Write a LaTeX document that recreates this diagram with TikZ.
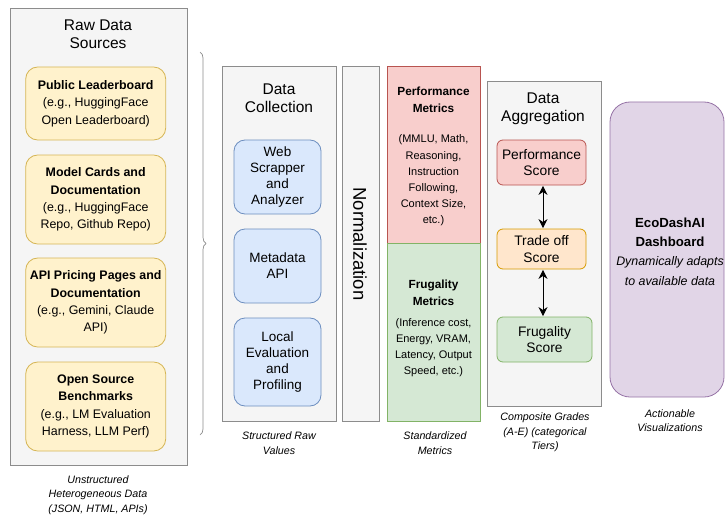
\documentclass[tikz,border=0pt]{standalone}
\usepackage{fontspec}
\setmainfont{Liberation Sans}
\usetikzlibrary{arrows.meta,decorations.pathreplacing,calc}
\definecolor{panelfill}{HTML}{F5F5F5}
\definecolor{panelline}{HTML}{8C8C8C}
\definecolor{yfill}{HTML}{FFF2CC}
\definecolor{yline}{HTML}{D6B656}
\definecolor{bfill}{HTML}{DAE8FC}
\definecolor{bline}{HTML}{6C8EBF}
\definecolor{rfill}{HTML}{F8CECC}
\definecolor{rline}{HTML}{B85450}
\definecolor{gfill}{HTML}{D5E8D4}
\definecolor{gline}{HTML}{82B366}
\definecolor{ofill}{HTML}{FFE6CC}
\definecolor{oline}{HTML}{D79B00}
\definecolor{pfill}{HTML}{E1D5E7}
\definecolor{pline}{HTML}{9673A6}
\tikzset{
  panel/.style={draw=panelline, fill=panelfill, line width=0.8pt, inner sep=0pt},
  srcbox/.style={draw=yline, fill=yfill, rounded corners=12pt, line width=0.8pt, align=center, inner sep=0pt,
    font=\fontsize{12.4}{17.4}\selectfont},
  colbox/.style={draw=bline, fill=bfill, rounded corners=11pt, line width=0.8pt, align=center, inner sep=0pt,
    font=\fontsize{13.5}{16.2}\selectfont},
  scorebox/.style={rounded corners=6pt, line width=0.8pt, align=center, inner sep=0pt,
    font=\fontsize{13.8}{16.5}\selectfont},
  title/.style={align=center, font=\fontsize{15.5}{18}\selectfont, inner sep=0pt},
  caption/.style={align=center, font=\fontsize{10.7}{14.5}\selectfont\itshape, inner sep=0pt},
  metric/.style={align=center, font=\fontsize{11}{16.2}\selectfont, inner sep=0pt},
  dbl/.style={{Stealth[length=9pt,width=9pt]}-{Stealth[length=9pt,width=9pt]}, line width=0.9pt, black}
}
\begin{document}
\begin{tikzpicture}[x=1pt,y=-1pt]
\useasboundingbox (0,0) rectangle (725,516);
% Raw data sources panel
\node[panel, minimum width=177, minimum height=457] (raw) at (98.5,236.5) {};
\node[title] (rawt) at (98,34) {Raw Data\\Sources};
\node[srcbox, minimum width=140, minimum height=73] (s1) at (95.7,103.5) {\textbf{Public Leaderboard}\\(e.g., HuggingFace\\Open Leaderboard)};
\node[srcbox, minimum width=140, minimum height=89] (s2) at (95.7,199.5) {\textbf{Model Cards and}\\\textbf{Documentation}\\(e.g., HuggingFace\\Repo, Github Repo)};
\node[srcbox, minimum width=140, minimum height=89] (s3) at (95.7,302.5) {\textbf{API Pricing Pages and}\\\textbf{Documentation}\\(e.g., Gemini, Claude\\API)};
\node[srcbox, minimum width=140, minimum height=89] (s4) at (95.7,406.5) {\textbf{Open Source}\\\textbf{Benchmarks}\\(e.g., LM Evaluation\\Harness, LLM Perf)};
\node[caption] (rawc) at (98,495) {Unstructured\\Heterogeneous Data\\(JSON, HTML, APIs)};
% brace
\coordinate (bt) at (200,52);
\coordinate (bb) at (200,435);
\draw[panelline, line width=0.7pt, decorate, decoration={brace, amplitude=6pt}] (bt) -- (bb);
% data collection
\node[panel, minimum width=114, minimum height=355] (dc) at (279,243.5) {};
\node[title] (dct) at (279,98) {Data\\Collection};
\node[colbox, minimum width=87, minimum height=74] (c1) at (277.5,177) {Web\\Scrapper\\and\\Analyzer};
\node[colbox, minimum width=87, minimum height=74] (c2) at (277.5,266) {Metadata\\API};
\node[colbox, minimum width=87, minimum height=88] (c3) at (277.5,362) {Local\\Evaluation\\and\\Profiling};
\node[caption] (dcc) at (279,443) {Structured Raw\\Values};
% normalization
\node[panel, minimum width=37, minimum height=355] (norm) at (360.5,243.5) {};
\node[rotate=-90, font=\fontsize{18.5}{20}\selectfont, inner sep=0pt] (normt) at (360,244) {Normalization};
% metrics
\node[draw=rline, fill=rfill, line width=0.8pt, minimum width=93, minimum height=177, inner sep=0pt] (perf) at (433.5,154.5) {};
\node[draw=gline, fill=gfill, line width=0.8pt, minimum width=93, minimum height=178, inner sep=0pt] (frug) at (433.5,332) {};
\node[metric, font=\fontsize{11.8}{16.5}\selectfont\bfseries] (perft) at (433.5,100) {Performance\\Metrics};
\node[metric] (perfd) at (433.5,180.5) {(MMLU, Math,\\Reasoning,\\Instruction\\Following,\\Context Size,\\etc.)};
\node[metric, font=\fontsize{11.8}{16.5}\selectfont\bfseries] (frugt) at (433.5,293) {Frugality\\Metrics};
\node[metric] (frugd) at (433.5,347.5) {(Inference cost,\\Energy, VRAM,\\Latency, Output\\Speed, etc.)};
\node[caption] (mc) at (435,443) {Standardized\\Metrics};
% data aggregation
\node[panel, minimum width=114, minimum height=325] (agg) at (544,243.5) {};
\node[title] (aggt) at (543,109) {Data\\Aggregation};
\node[scorebox, draw=rline, fill=rfill, minimum width=89, minimum height=45] (ps) at (541.5,162.5) {Performance\\Score};
\node[scorebox, draw=oline, fill=ofill, minimum width=89, minimum height=40] (ts) at (541.5,249) {Trade off\\Score};
\node[scorebox, draw=gline, fill=gfill, minimum width=95, minimum height=45] (fs) at (544.5,339.5) {Frugality\\Score};
\draw[dbl] ([xshift=1.5pt,yshift=-0.5pt]ps.south) -- ([xshift=1.5pt,yshift=0.5pt]ts.north);
\draw[dbl] ([xshift=1.5pt,yshift=-0.5pt]ts.south) -- ([xshift=-1.5pt,yshift=0.5pt]fs.north);
\node[caption] (aggc) at (545,432.5) {Composite Grades\\(A-E) (categorical\\Tiers)};
% dashboard
\node[draw=pline, fill=pfill, line width=0.8pt, rounded corners=20pt, minimum width=114, minimum height=295, inner sep=0pt] (dash) at (667,249.5) {};
\node[align=center, inner sep=0pt, font=\fontsize{13.2}{19}\selectfont\bfseries] (dasht) at (670,232.5) {EcoDashAI\\Dashboard};
\node[align=center, inner sep=0pt, font=\fontsize{12.4}{19.5}\selectfont\itshape] (dashd) at (670,271) {Dynamically adapts\\to available data};
\node[caption] (dashc) at (670,420.5) {Actionable\\Visualizations};
\end{tikzpicture}
\end{document}
